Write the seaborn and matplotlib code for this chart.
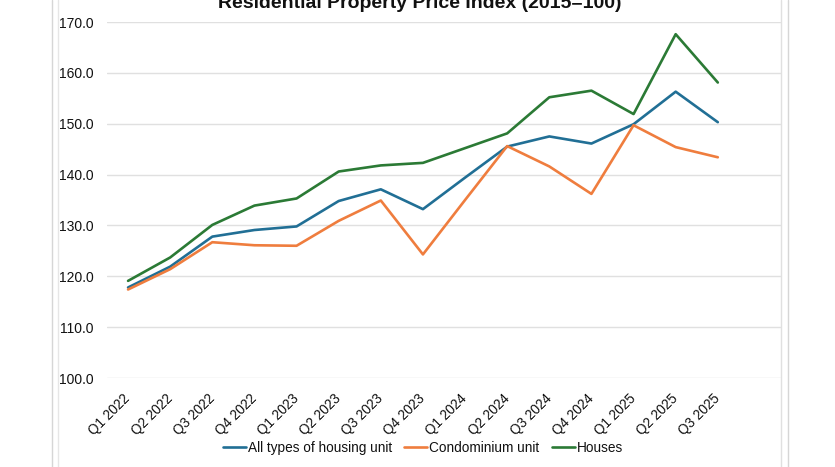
import pandas as pd
import matplotlib.pyplot as plt
import seaborn as sns
from matplotlib.lines import Line2D

# Chart data
quarters = ['Q1 2022', 'Q2 2022', 'Q3 2022', 'Q4 2022',
            'Q1 2023', 'Q2 2023', 'Q3 2023', 'Q4 2023',
            'Q1 2024', 'Q2 2024', 'Q3 2024', 'Q4 2024',
            'Q1 2025', 'Q2 2025', 'Q3 2025']
all_types = [117.8, 121.9, 127.8, 129.1, 129.8, 134.8, 137.1, 133.2,
             139.4, 145.5, 147.5, 146.1, 149.9, 156.3, 150.3]
condominium = [117.4, 121.4, 126.7, 126.1, 126.0, 130.9, 134.9, 124.3,
               135.0, 145.6, 141.6, 136.2, 149.7, 145.4, 143.4]
houses = [119.1, 123.7, 130.1, 133.9, 135.3, 140.6, 141.8, 142.3,
          145.2, 148.1, 155.2, 156.5, 151.9, 167.6, 158.1]
series_names = ['All types of housing unit', 'Condominium unit', 'Houses']
colors = ['#216f95', '#ef7d3e', '#2b7a35']

df = pd.DataFrame({
    'pos': list(range(len(quarters))) * 3,
    'value': all_types + condominium + houses,
    'series': [s for s in series_names for _ in quarters],
})

sns.set_style("white")
plt.rcParams['font.family'] = ['Liberation Sans', 'DejaVu Sans']

W, H = 835, 467
fig = plt.figure(figsize=(W / 100, H / 100), dpi=100)
ax = fig.add_axes([107 / W, 1 - 378 / H, (781 - 107) / W, (378 - 22) / H])

sns.lineplot(data=df, x='pos', y='value', hue='series', hue_order=series_names,
             palette=colors, linewidth=1.9, ax=ax, legend=False)

ax.set_ylim(100, 170)
ax.set_yticks(range(100, 171, 10))
ax.set_yticklabels([f'{v:.1f}' for v in range(100, 171, 10)])
ax.set_xlim(-0.5, len(quarters) + 0.5)
ax.set_xticks(range(len(quarters)))
ax.set_xticklabels(quarters, rotation=45, ha='right', va='center',
                   rotation_mode='anchor')
ax.tick_params(axis='y', length=0, pad=9.5, labelsize=10, labelcolor='#111111')
ax.tick_params(axis='x', length=0, pad=13, labelsize=9.8, labelcolor='#111111')
ax.set_xlabel('')
ax.set_ylabel('')
ax.grid(axis='y', color='#e0e0e0', linewidth=1)
ax.set_axisbelow(True)
for sp in ax.spines.values():
    sp.set_visible(False)

# Title, cut off at the top as in the reference
fig.text(420 / W, 1 - 8 / H, 'Residential Property Price Index (2015=100)',
         ha='center', va='baseline', fontsize=14, fontweight='bold', color='#111111')

# Chart frame lines
for xp, c in [(52, '#d6d6d6'), (58, '#e6e6e6'), (781, '#e0e0e0'), (788, '#d6d6d6')]:
    fig.add_artist(Line2D([xp / W, xp / W], [0, 1], transform=fig.transFigure,
                          color=c, linewidth=1))

handles = [Line2D([0], [0], color=c, linewidth=1.9) for c in colors]
fig.legend(handles, series_names, loc='center', bbox_to_anchor=(423 / W, 1 - 448 / H),
           ncol=3, frameon=False, fontsize=9.8, handlelength=1.7,
           handletextpad=0.15, columnspacing=0.9, labelcolor='#111111')

fig.savefig('out.png', dpi=100)
